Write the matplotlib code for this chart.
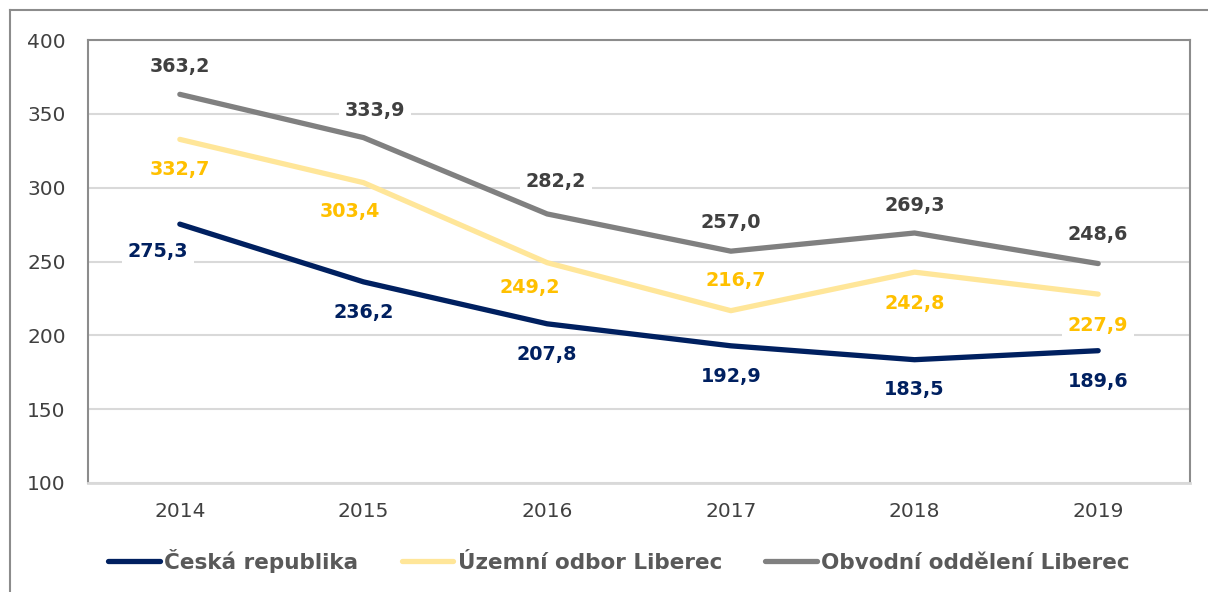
import numpy as np
import matplotlib.pyplot as plt
from matplotlib.lines import Line2D

years = ['2014', '2015', '2016', '2017', '2018', '2019']
cr = [275.3, 236.2, 207.8, 192.9, 183.5, 189.6]
uo = [332.7, 303.4, 249.2, 216.7, 242.8, 227.9]
oo = [363.2, 333.9, 282.2, 257.0, 269.3, 248.6]

names = ['Česká republika', 'Územní odbor Liberec', 'Obvodní oddělení Liberec']

# label offsets in pixels (dx, dy) for each point
off_cr = [(-22, -27), (0, -31), (0, -31), (0, -31), (0, -30), (0, -31)]
off_uo = [(0, -30), (-14, -29), (-17, -25), (5, 30), (0, -31), (0, -31)]
off_oo = [(0, 28), (11, 27), (9, 32), (0, 29), (0, 28), (0, 29)]

plt.rcParams['font.family'] = 'DejaVu Sans'

fig = plt.figure(figsize=(12.08, 5.92), dpi=100)
ax = fig.add_axes([88/1208, 1-483/592, 1102/1208, 443/592])

# outer frame
fig.add_artist(Line2D([10/1208, 1.0], [1-10/592, 1-10/592], color='#8c8c8c', lw=1.5,
                      transform=fig.transFigure))
fig.add_artist(Line2D([10/1208, 10/1208], [0, 1-10/592], color='#8c8c8c', lw=1.5,
                      transform=fig.transFigure))

x = np.arange(len(years))
series = [
    (cr, '#002060', '#002060', off_cr),
    (uo, '#ffe699', '#ffc000', off_uo),
    (oo, '#808080', '#404040', off_oo),
]

handles = []
for (vals, lc, tc, offs), nm in zip(series, names):
    h, = ax.plot(x, vals, color=lc, lw=3.8, solid_capstyle='round', zorder=3, label=nm)
    handles.append(h)
    for xi, v, (dx, dy) in zip(x, vals, offs):
        ax.annotate(f'{v:.1f}'.replace('.', ','), (xi, v), xytext=(dx, dy),
                    textcoords='offset pixels', ha='center', va='center',
                    fontsize=13.8, fontweight='bold', color=tc, zorder=5,
                    bbox=dict(boxstyle='square,pad=0.3', fc='white', ec='none'))

ax.set_xlim(-0.5, 5.5)
ax.set_ylim(100, 400)
ax.set_yticks(np.arange(100, 401, 50))
ax.set_xticks(x)
ax.set_xticklabels(years)
ax.yaxis.grid(True, color='#d9d9d9', lw=1.5, zorder=0)
ax.set_axisbelow(True)
ax.tick_params(axis='both', length=0, labelsize=14.5, labelcolor='#404040')
ax.tick_params(axis='y', pad=16)
ax.tick_params(axis='x', pad=14)

for s in ['left', 'top', 'right']:
    ax.spines[s].set_color('#8c8c8c')
    ax.spines[s].set_linewidth(1.5)
ax.spines['bottom'].set_color('#d9d9d9')
ax.spines['bottom'].set_linewidth(2)

leg = fig.legend(handles=handles, loc='center', bbox_to_anchor=(619/1208, 1-561/592),
                 ncol=3, frameon=False, handlelength=2.4, handletextpad=0.2,
                 columnspacing=2.0, prop={'size': 15.5, 'weight': 'bold'})
for t in leg.get_texts():
    t.set_color('#595959')

fig.savefig('out.png', dpi=100)
